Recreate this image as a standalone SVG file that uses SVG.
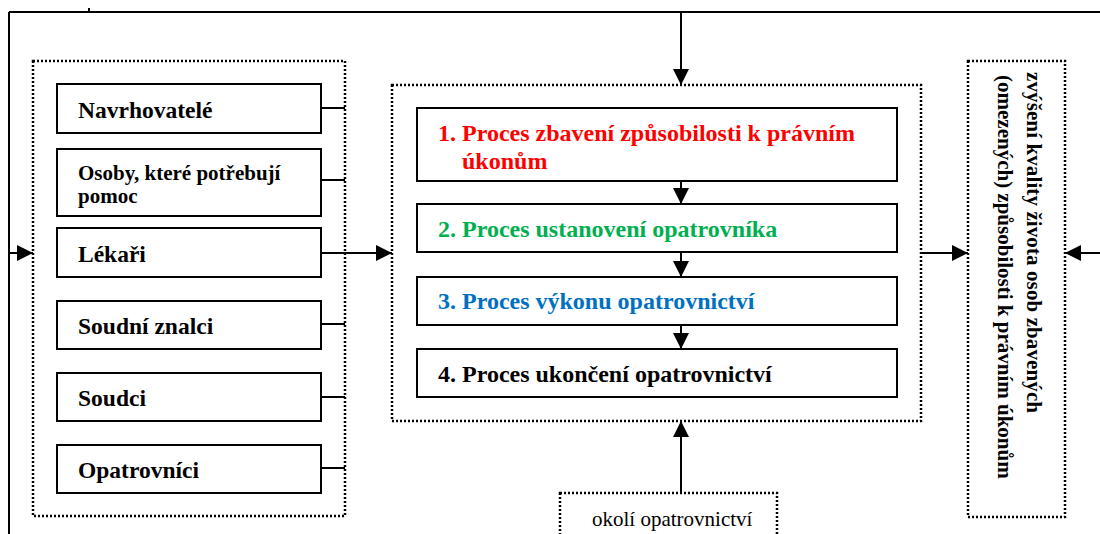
<svg xmlns="http://www.w3.org/2000/svg" width="1100" height="534" viewBox="0 0 1100 534">
<style>
text{font-family:"Liberation Serif","Times New Roman",serif;}
.b{font-weight:bold;font-size:23.5px;fill:#000;}
.p{font-size:24px;}
.box{fill:#fff;stroke:#000;stroke-width:2;}
.dot{fill:none;stroke:#000;stroke-width:2.5;stroke-dasharray:2 2;}
.ln{fill:none;stroke:#000;stroke-width:2;}
</style>
<defs>
<marker id="ah" viewBox="0 0 10 10" refX="10" refY="5" markerWidth="16" markerHeight="16" markerUnits="userSpaceOnUse" orient="auto"><path d="M0,0 L10,5 L0,10 z" fill="#000"/></marker>
</defs>
<rect width="1100" height="534" fill="#fff"/>

<g id="containers">
<rect id="left-group" class="dot" x="33" y="61" width="312" height="455"/>
<rect id="process-group" class="dot" x="392" y="85" width="529" height="336"/>
</g>

<g id="connectors">
<line class="ln" x1="9" y1="12" x2="1100" y2="12"/>
<line class="ln" x1="9" y1="12" x2="9" y2="534"/>
<line class="ln" x1="89" y1="8" x2="89" y2="12" stroke-width="1"/>
<line class="ln" x1="9" y1="253" x2="33" y2="253" marker-end="url(#ah)"/>
<line class="ln" x1="681" y1="12" x2="681" y2="85" marker-end="url(#ah)"/>
<line class="ln" x1="321" y1="108" x2="345" y2="108"/>
<line class="ln" x1="321" y1="180" x2="345" y2="180"/>
<line class="ln" x1="321" y1="253" x2="392" y2="253" marker-end="url(#ah)"/>
<line class="ln" x1="321" y1="324" x2="345" y2="324"/>
<line class="ln" x1="321" y1="397" x2="345" y2="397"/>
<line class="ln" x1="321" y1="468" x2="345" y2="468"/>
<line class="ln" x1="681" y1="181" x2="681" y2="204" marker-end="url(#ah)"/>
<line class="ln" x1="681" y1="252" x2="681" y2="277" marker-end="url(#ah)"/>
<line class="ln" x1="681" y1="325" x2="681" y2="349" marker-end="url(#ah)"/>
<line class="ln" x1="681" y1="493" x2="681" y2="421" marker-end="url(#ah)"/>
<line class="ln" x1="921" y1="253" x2="968" y2="253" marker-end="url(#ah)"/>
<line class="ln" x1="1100" y1="253" x2="1065" y2="253" marker-end="url(#ah)"/>
</g>

<g id="navrhovatele">
<rect class="box" x="57" y="84" width="264" height="49"/>
<text class="b" x="78" y="118">Navrhovatelé</text>
</g>
<g id="osoby">
<rect class="box" x="57" y="149" width="264" height="67"/>
<text class="b" x="78" y="180" style="font-size:21px">Osoby, které potřebují</text>
<text class="b" x="78" y="203" style="font-size:21px">pomoc</text>
</g>
<g id="lekari">
<rect class="box" x="57" y="228" width="264" height="49"/>
<text class="b" x="78" y="262">Lékaři</text>
</g>
<g id="soudni-znalci">
<rect class="box" x="57" y="301" width="264" height="48"/>
<text class="b" x="78" y="334">Soudní znalci</text>
</g>
<g id="soudci">
<rect class="box" x="57" y="373" width="264" height="48"/>
<text class="b" x="78" y="406">Soudci</text>
</g>
<g id="opatrovnici">
<rect class="box" x="57" y="445" width="264" height="48"/>
<text class="b" x="78" y="478">Opatrovníci</text>
</g>

<g id="proces1">
<rect class="box" x="417" y="108" width="480" height="73"/>
<text class="b p" x="438" y="141" style="fill:#FF0000">1. Proces zbavení způsobilosti k právním</text>
<text class="b p" x="462" y="169" style="fill:#FF0000">úkonům</text>
</g>
<g id="proces2">
<rect class="box" x="417" y="204" width="480" height="48"/>
<text class="b p" x="438" y="237" style="fill:#00B050">2. Proces ustanovení opatrovníka</text>
</g>
<g id="proces3">
<rect class="box" x="417" y="277" width="480" height="48"/>
<text class="b p" x="438" y="309" style="fill:#0070C0">3. Proces výkonu opatrovnictví</text>
</g>
<g id="proces4">
<rect class="box" x="417" y="349" width="480" height="48"/>
<text class="b p" x="438" y="382">4. Proces ukončení opatrovnictví</text>
</g>

<g id="okoli">
<rect class="dot" x="560" y="493" width="217" height="50" style="fill:#fff"/>
<text x="592" y="526" style="font-size:21px">okolí opatrovnictví</text>
</g>

<g id="vysledek">
<rect class="dot" x="968" y="61" width="97" height="456"/>
<text class="b" style="font-size:21px" transform="translate(1027,72) rotate(90)" textLength="341" lengthAdjust="spacing">zvýšení kvality života osob zbavených</text>
<text class="b" style="font-size:21px" transform="translate(998,75) rotate(90)">(omezených) způsobilosti k právním úkonům</text>
</g>
</svg>
